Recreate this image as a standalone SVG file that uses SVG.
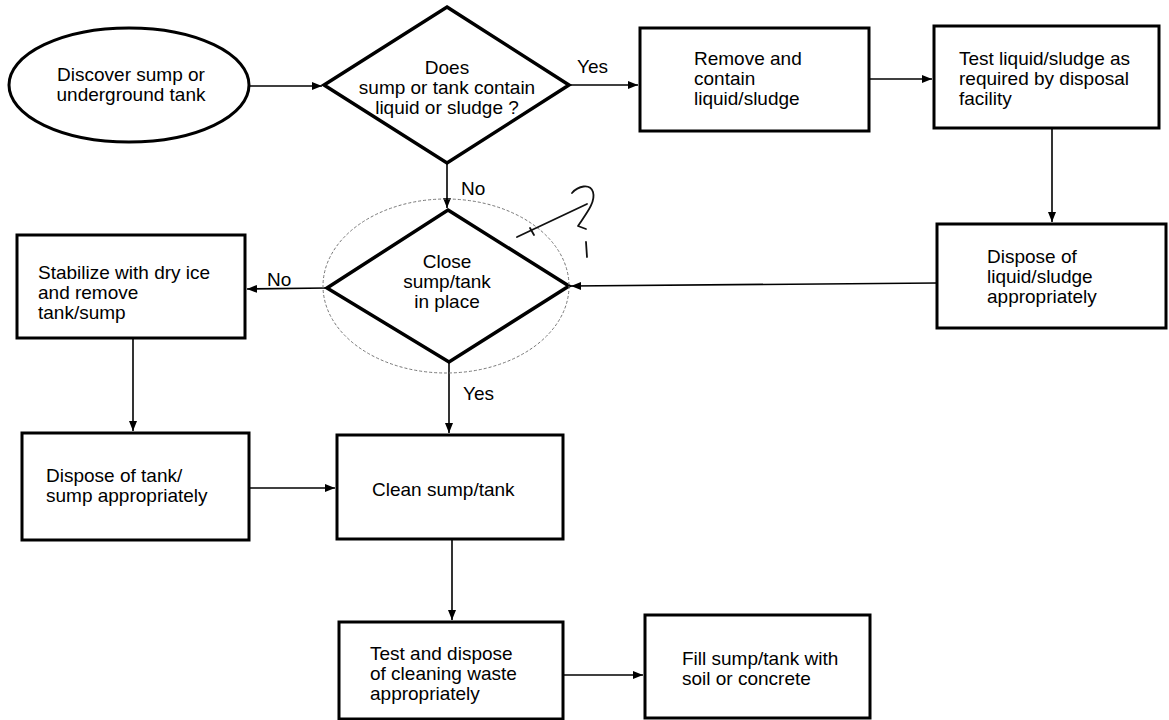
<svg xmlns="http://www.w3.org/2000/svg" width="1169" height="720" viewBox="0 0 1169 720">
<style>
  .node { fill: #ffffff; stroke: #000000; stroke-width: 3; }
  .dia { fill: #ffffff; stroke: #000000; stroke-width: 3.5; stroke-linejoin: miter; }
  .lbl { font-family: "Liberation Sans", Arial, Helvetica, sans-serif; font-size: 19px; fill: #000000; }
  .mid { text-anchor: middle; }
  .conn { fill: none; stroke: #000000; stroke-width: 1.6; }
  .hand { fill: none; stroke: #111111; stroke-width: 1.8; stroke-linecap: round; stroke-linejoin: round; }
</style>
<defs>
  <marker id="ah" viewBox="0 0 10 10" refX="10" refY="5" markerWidth="10" markerHeight="10" markerUnits="userSpaceOnUse" orient="auto">
    <path d="M0,1 L10,5 L0,9 Z" fill="#000000"/>
  </marker>
</defs>
<rect width="1169" height="720" fill="#ffffff"/>

<g id="connectors">
  <line class="conn" x1="249" y1="86" x2="322" y2="86" marker-end="url(#ah)"/>
  <line class="conn" x1="569" y1="85" x2="638" y2="85" marker-end="url(#ah)"/>
  <line class="conn" x1="869" y1="79" x2="932" y2="79" marker-end="url(#ah)"/>
  <line class="conn" x1="1052" y1="128" x2="1052" y2="222" marker-end="url(#ah)"/>
  <line class="conn" x1="447" y1="163" x2="447" y2="208" marker-end="url(#ah)"/>
  <line class="conn" x1="937" y1="283" x2="571" y2="286" marker-end="url(#ah)"/>
  <line class="conn" x1="327" y1="288" x2="247" y2="289" marker-end="url(#ah)"/>
  <line class="conn" x1="133" y1="338" x2="133" y2="431" marker-end="url(#ah)"/>
  <line class="conn" x1="449" y1="362" x2="449" y2="433" marker-end="url(#ah)"/>
  <line class="conn" x1="249" y1="488" x2="335" y2="488" marker-end="url(#ah)"/>
  <line class="conn" x1="452" y1="539" x2="452" y2="620" marker-end="url(#ah)"/>
  <line class="conn" x1="563" y1="675" x2="643" y2="675" marker-end="url(#ah)"/>
  <text class="lbl" x="577" y="73">Yes</text>
  <text class="lbl" x="461" y="195">No</text>
  <text class="lbl" x="267" y="286">No</text>
  <text class="lbl" x="463" y="400">Yes</text>
</g>

<g id="n-discover">
  <ellipse class="node" cx="129" cy="85" rx="120" ry="57"/>
  <text class="lbl mid" x="131" y="81">Discover sump or</text>
  <text class="lbl mid" x="131" y="101">underground tank</text>
</g>

<g id="n-contain">
  <polygon class="dia" points="447,7 569,85 447,163 324,85"/>
  <text class="lbl mid" x="447" y="74">Does</text>
  <text class="lbl mid" x="447" y="94">sump or tank contain</text>
  <text class="lbl mid" x="447" y="114">liquid or sludge ?</text>
</g>

<g id="n-remove">
  <rect class="node" x="640" y="28" width="229" height="103"/>
  <text class="lbl" x="694" y="65">Remove and</text>
  <text class="lbl" x="694" y="85">contain</text>
  <text class="lbl" x="694" y="105">liquid/sludge</text>
</g>

<g id="n-test-liquid">
  <rect class="node" x="934" y="26" width="225" height="102"/>
  <text class="lbl" x="959" y="65">Test liquid/sludge as</text>
  <text class="lbl" x="959" y="85">required by disposal</text>
  <text class="lbl" x="959" y="105">facility</text>
</g>

<g id="n-dispose-liquid">
  <rect class="node" x="937" y="224" width="229" height="104"/>
  <text class="lbl" x="987" y="263">Dispose of</text>
  <text class="lbl" x="987" y="283">liquid/sludge</text>
  <text class="lbl" x="987" y="303">appropriately</text>
</g>

<g id="n-close">
  <polygon class="dia" points="448,210 569,286 449,362 327,288"/>
  <text class="lbl mid" x="447" y="268">Close</text>
  <text class="lbl mid" x="447" y="288">sump/tank</text>
  <text class="lbl mid" x="447" y="308">in place</text>
</g>

<g id="annotation">
  <ellipse cx="446" cy="286" rx="123" ry="87" fill="none" stroke="#777777" stroke-width="1" stroke-dasharray="3 2"/>
  <path class="hand" d="M572,193 C578,186 590,183 593,192 C596,202 586,214 578,226 L586,229"/>
  <path class="hand" d="M517,237 L587,204"/>
  <path class="hand" d="M530,228 L534,235"/>
  <path class="hand" d="M586,242 L587,257"/>
</g>

<g id="n-stabilize">
  <rect class="node" x="17" y="235" width="228" height="103"/>
  <text class="lbl" x="38" y="279">Stabilize with dry ice</text>
  <text class="lbl" x="38" y="299">and remove</text>
  <text class="lbl" x="38" y="319">tank/sump</text>
</g>

<g id="n-dispose-tank">
  <rect class="node" x="22" y="433" width="227" height="107"/>
  <text class="lbl" x="46" y="482">Dispose of tank/</text>
  <text class="lbl" x="46" y="502">sump appropriately</text>
</g>

<g id="n-clean">
  <rect class="node" x="337" y="435" width="226" height="104"/>
  <text class="lbl" x="372" y="496">Clean sump/tank</text>
</g>

<g id="n-test-waste">
  <rect class="node" x="339" y="622" width="224" height="97"/>
  <text class="lbl" x="370" y="660">Test and dispose</text>
  <text class="lbl" x="370" y="680">of cleaning waste</text>
  <text class="lbl" x="370" y="700">appropriately</text>
</g>

<g id="n-fill">
  <rect class="node" x="645" y="615" width="225" height="103"/>
  <text class="lbl" x="682" y="665">Fill sump/tank with</text>
  <text class="lbl" x="682" y="685">soil or concrete</text>
</g>
</svg>
